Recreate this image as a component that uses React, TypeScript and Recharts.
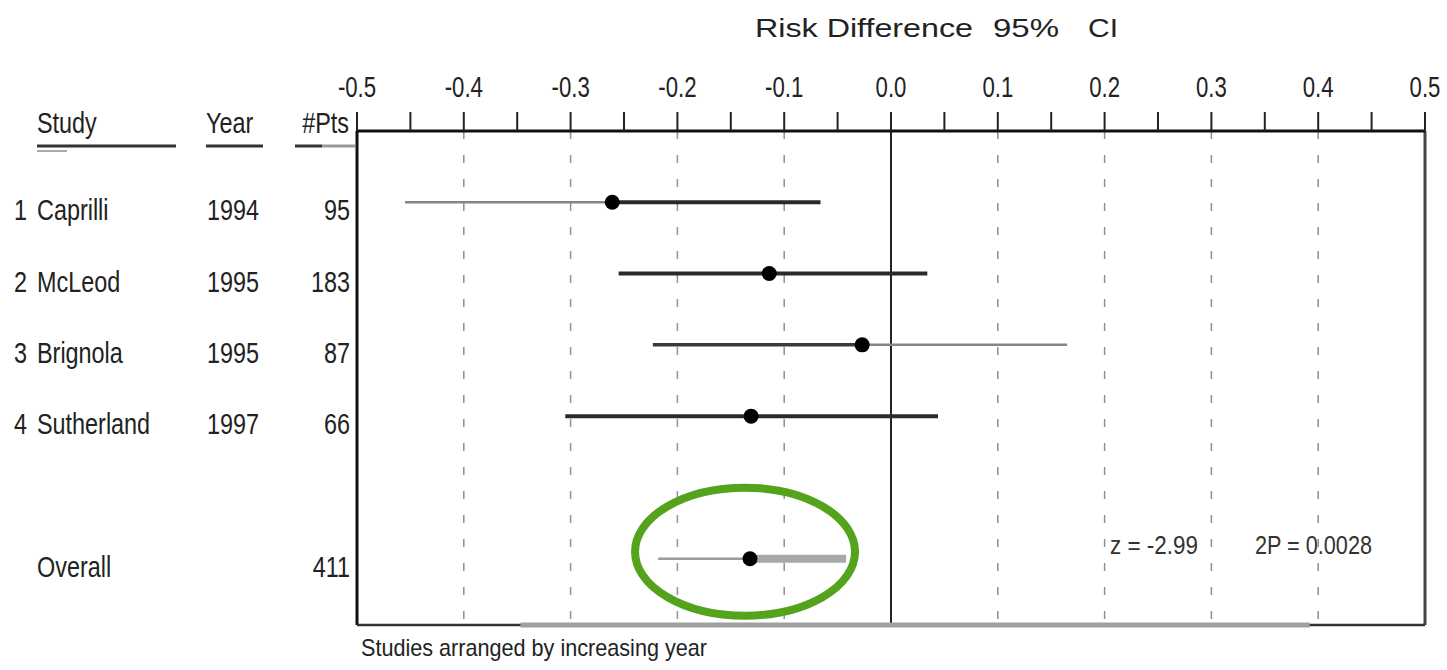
import React from "react";
import { ScatterChart, Scatter, XAxis, YAxis, ReferenceLine } from "recharts";

// ---- data ----
const studyNums = [1, 2, 3, 4];
const studyNames = ["Caprilli", "McLeod", "Brignola", "Sutherland"];
const studyYears = ["1994", "1995", "1995", "1997"];
const studyPts = [95, 183, 87, 66];
const studyEst = [-0.261, -0.114, -0.027, -0.131];
const studyLo = [-0.455, -0.255, -0.223, -0.305];
const studyHi = [-0.066, 0.034, 0.165, 0.044];
const studyRows = [1, 2, 3, 4];
// tone of the left (lo→est) and right (est→hi) half of each CI line
const leftTone = ["light", "dark", "mid", "dark"];
const rightTone = ["dark", "dark", "light", "dark"];

const overallLabel = "Overall";
const overallPts = 411;
const overallEst = -0.132;
const overallLo = -0.218;
const overallHi = -0.042;
const overallRow = 6;

const zText = "z = -2.99";
const pText = "2P = 0.0028";

const xTicks = [-0.5, -0.45, -0.4, -0.35, -0.3, -0.25, -0.2, -0.15, -0.1, -0.05, 0, 0.05, 0.1, 0.15, 0.2, 0.25, 0.3, 0.35, 0.4, 0.45, 0.5];
const gridValues = [-0.4, -0.3, -0.2, -0.1, 0.1, 0.2, 0.3, 0.4];
const xDomain = [-0.5, 0.5];
const yDomain = [0, 6.93];

// ---- layout ----
const W = 1447;
const H = 670;
const M = { top: 81, right: 22, bottom: 45, left: 357 };
const AXIS_H = 50;
const PLOT_TOP = M.top + AXIS_H;
const PLOT_H = H - M.bottom - PLOT_TOP;
const SANS = '"Liberation Sans", Arial, sans-serif';
const SQUEEZE = 0.78;

const yOf = (row: number) => PLOT_TOP + ((row - yDomain[0]) / (yDomain[1] - yDomain[0])) * PLOT_H;

const toneStyle: Record<string, { stroke: string; strokeWidth: number }> = {
  dark: { stroke: "#2a2a2a", strokeWidth: 4 },
  mid: { stroke: "#3a3a3a", strokeWidth: 3.5 },
  light: { stroke: "#858585", strokeWidth: 2.5 },
};

const pointData = studyEst.map((e, i) => ({ x: e, row: studyRows[i] }));
const overallData = [{ x: overallEst, row: overallRow }];

const fmtTick = (v: number) => (Math.abs(Math.round(v * 100)) % 10 === 0 ? v.toFixed(1) : "");

// condensed text: Liberation Sans squeezed horizontally
const NText = ({ x, y, anchor = "start", size = 30, sx = SQUEEZE, fill = "#222", children }: any) => (
  <text
    transform={`translate(${x},${y}) scale(${sx},1)`}
    textAnchor={anchor}
    fontFamily={SANS}
    fontSize={size}
    fill={fill}
  >
    {children}
  </text>
);

const TopTick = (p: any) => {
  const label = fmtTick(p.payload.value);
  if (!label) return null;
  return (
    <NText x={p.x} y={97} anchor="middle" size={30} sx={0.74}>
      {label}
    </NText>
  );
};

const Dot = (p: any) => <circle cx={p.cx} cy={p.cy} r={7.5} fill="#000" />;
const Ellipse = (p: any) => (
  <ellipse cx={p.cx - 5} cy={p.cy - 7} rx={110} ry={64} fill="none" stroke="#55a31d" strokeWidth={8} />
);

export default function App() {
  return (
    <div style={{ position: "absolute", left: 0, top: 0, width: W, height: H, background: "#fff" }}>
      <div style={{ position: "absolute", left: 0, top: 0 }}>
        <ScatterChart width={W} height={H} margin={M}>
          <XAxis
            type="number"
            dataKey="x"
            orientation="top"
            domain={xDomain}
            ticks={xTicks}
            interval={0}
            allowDataOverflow
            height={AXIS_H}
            tickSize={19}
            tickMargin={16}
            axisLine={{ stroke: "#111", strokeWidth: 3 }}
            tickLine={{ stroke: "#222", strokeWidth: 2 }}
            tick={<TopTick />}
          />
          <YAxis type="number" dataKey="row" domain={yDomain} reversed hide allowDataOverflow />
          {gridValues.map((v) => (
            <ReferenceLine key={"g" + v} x={v} stroke="#8f8f8f" strokeWidth={1.5} strokeDasharray="8 16" ifOverflow="visible" />
          ))}
          <ReferenceLine x={0} stroke="#222" strokeWidth={2} ifOverflow="visible" />
          <ReferenceLine x={xDomain[0]} stroke="#111" strokeWidth={3} ifOverflow="visible" />
          <ReferenceLine x={xDomain[1]} stroke="#444" strokeWidth={3} ifOverflow="visible" />
          <ReferenceLine y={yDomain[1]} stroke="#333" strokeWidth={2.5} ifOverflow="visible" />
          <ReferenceLine
            segment={[{ x: -0.347, y: yDomain[1] }, { x: 0.392, y: yDomain[1] }]}
            stroke="#a0a0a0"
            strokeWidth={5}
            ifOverflow="visible"
          />
          {studyEst.map((e, i) => (
            <ReferenceLine
              key={"l" + i}
              segment={[{ x: studyLo[i], y: studyRows[i] }, { x: e, y: studyRows[i] }]}
              {...toneStyle[leftTone[i]]}
              ifOverflow="visible"
            />
          ))}
          {studyEst.map((e, i) => (
            <ReferenceLine
              key={"r" + i}
              segment={[{ x: e, y: studyRows[i] }, { x: studyHi[i], y: studyRows[i] }]}
              {...toneStyle[rightTone[i]]}
              ifOverflow="visible"
            />
          ))}
          <ReferenceLine
            segment={[{ x: overallLo, y: overallRow }, { x: overallEst, y: overallRow }]}
            stroke="#9a9a9a"
            strokeWidth={2.5}
            ifOverflow="visible"
          />
          <ReferenceLine
            segment={[{ x: overallEst, y: overallRow }, { x: overallHi, y: overallRow }]}
            stroke="#a8a8a8"
            strokeWidth={8}
            ifOverflow="visible"
          />
          <Scatter data={overallData} shape={Ellipse} isAnimationActive={false} />
          <Scatter data={pointData} shape={Dot} isAnimationActive={false} />
          <Scatter data={overallData} shape={Dot} isAnimationActive={false} />
        </ScatterChart>
      </div>
      <svg width={W} height={H} style={{ position: "absolute", left: 0, top: 0, pointerEvents: "none" }}>
        {/* title */}
        <g fontFamily={SANS} fontSize={26} fill="#222">
          <text x={755} y={37} textLength={218} lengthAdjust="spacingAndGlyphs">Risk Difference</text>
          <text x={993} y={37} textLength={66} lengthAdjust="spacingAndGlyphs">95%</text>
          <text x={1088} y={37} textLength={30} lengthAdjust="spacingAndGlyphs">CI</text>
        </g>
        {/* column headers */}
        <NText x={37} y={133}>Study</NText>
        <NText x={206} y={133}>Year</NText>
        <NText x={349} y={133} anchor="end">#Pts</NText>
        <line x1={37} y1={146} x2={176} y2={146} stroke="#333" strokeWidth={3} />
        <line x1={37} y1={151} x2={67} y2={151} stroke="#aaa" strokeWidth={2} />
        <line x1={206} y1={146} x2={263} y2={146} stroke="#333" strokeWidth={3} />
        <line x1={295} y1={146} x2={322} y2={146} stroke="#333" strokeWidth={3} />
        <line x1={322} y1={146} x2={355} y2={146} stroke="#999" strokeWidth={3} />
        {/* study rows */}
        {studyNames.map((n, i) => {
          const y = yOf(studyRows[i]) + 18;
          return (
            <g key={n}>
              <NText x={14} y={y}>{studyNums[i]}</NText>
              <NText x={37} y={y}>{n}</NText>
              <NText x={207} y={y}>{studyYears[i]}</NText>
              <NText x={350} y={y} anchor="end">{studyPts[i]}</NText>
            </g>
          );
        })}
        <NText x={37} y={yOf(overallRow) + 18}>{overallLabel}</NText>
        <NText x={350} y={yOf(overallRow) + 18} anchor="end">{overallPts}</NText>
        {/* stats */}
        <g fontFamily={SANS} fontSize={26} fill="#333">
          <text x={1110} y={554} textLength={88} lengthAdjust="spacingAndGlyphs">{zText}</text>
          <text x={1255} y={554} textLength={117} lengthAdjust="spacingAndGlyphs">{pText}</text>
        </g>
        {/* footnote */}
        <text x={361} y={656} fontFamily={SANS} fontSize={24} fill="#222" textLength={346} lengthAdjust="spacingAndGlyphs">
          Studies arranged by increasing year
        </text>
      </svg>
    </div>
  );
}
